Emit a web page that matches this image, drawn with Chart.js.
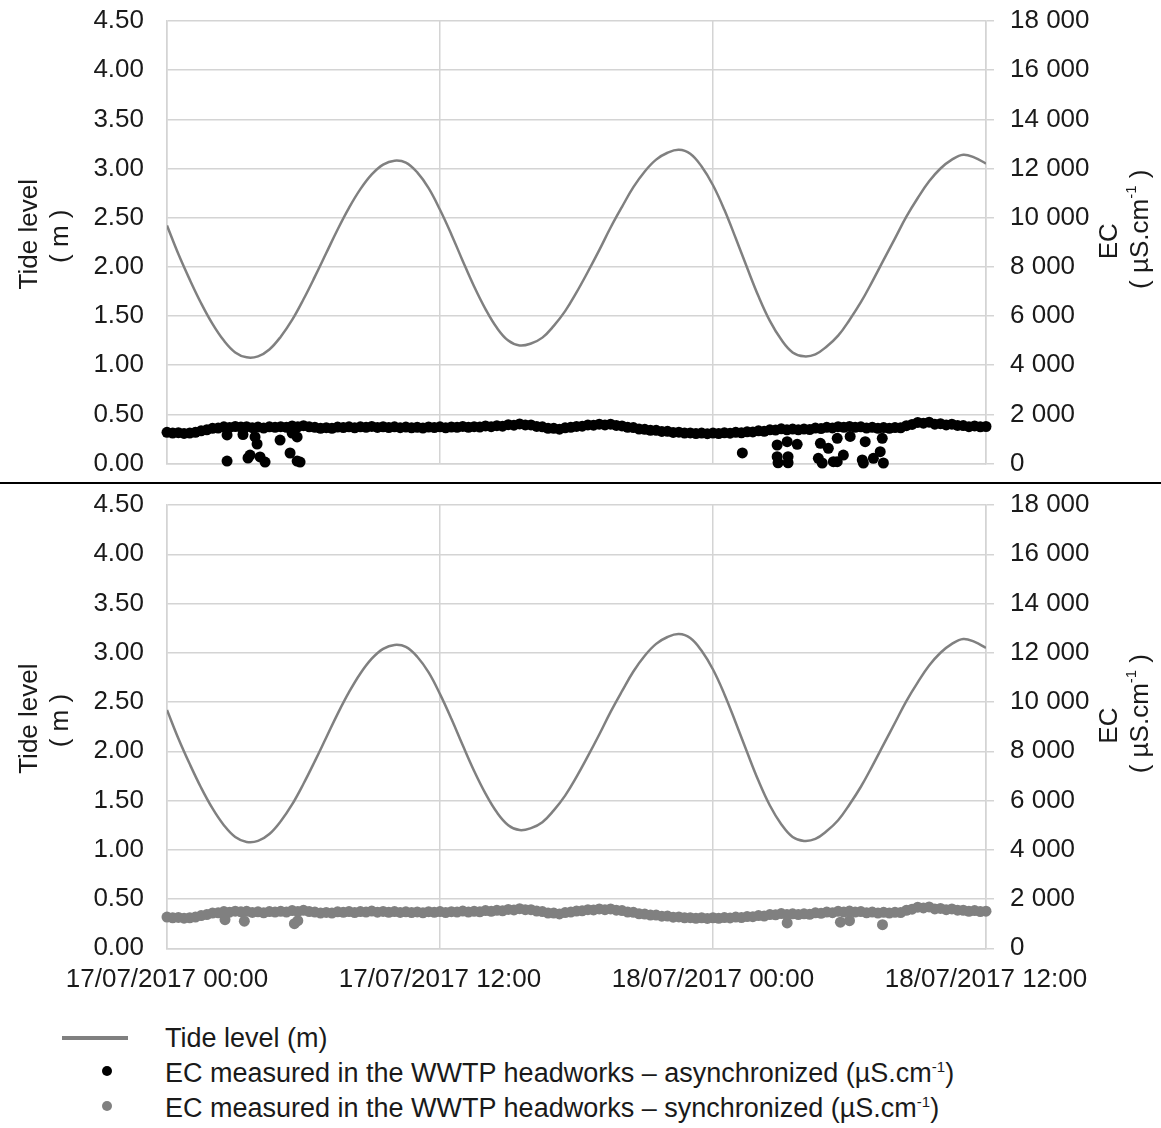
<!DOCTYPE html>
<html>
<head>
<meta charset="utf-8">
<script src="https://cdn.jsdelivr.net/npm/chart.js@4.4.0/dist/chart.umd.min.js"></script>
<style>
  html, body { margin: 0; padding: 0; background: #fff; }
  body { width: 1161px; height: 1128px; position: relative; overflow: hidden; font-family: "Liberation Sans", Arial, sans-serif; color: #1a1a1a; }
  canvas { position: absolute; left: 0; }
  #topChart { top: 0; }
  #bottomChart { top: 484px; }
  .rule { position: absolute; left: 0; top: 482px; width: 1161px; height: 2px; background: #000; }
  .row { position: absolute; left: 165px; white-space: nowrap; font-size: 27px; line-height: 30px; }
  .row sup { font-size: 15px; vertical-align: 10px; line-height: 0; }
  .swatch-line { position: absolute; left: 62px; width: 66px; height: 4px; background: #808080; }
  .swatch-dot { position: absolute; left: 102px; width: 10px; height: 10px; border-radius: 50%; }
</style>
</head>
<body>
<canvas id="topChart" width="1161" height="482"></canvas>
<div class="rule"></div>
<canvas id="bottomChart" width="1161" height="520"></canvas>

<div class="swatch-line" style="top:1036px"></div>
<div class="row" style="top:1023px">Tide level (m)</div>
<div class="swatch-dot" style="top:1066px;background:#000"></div>
<div class="row" style="top:1058px">EC measured in the WWTP headworks – asynchronized (µS.cm<sup>-1</sup>)</div>
<div class="swatch-dot" style="top:1101px;background:#808080"></div>
<div class="row" style="top:1093px">EC measured in the WWTP headworks – synchronized (µS.cm<sup>-1</sup>)</div>

<script>
// x axis: hours since 17/07/2017 00:00
const tickLabels = ["17/07/2017 00:00", "17/07/2017 12:00", "18/07/2017 00:00", "18/07/2017 12:00"]

// tide level (m), one reading every 30 min
const tideStepHours = 0.5
const tideLevel = [
  2.42, 2.13, 1.87, 1.63, 1.42, 1.25, 1.13, 1.08,
  1.09, 1.16, 1.29, 1.46, 1.67, 1.90, 2.14, 2.38, 2.60, 2.79, 2.94, 3.04, 3.08,
  3.06, 2.96, 2.80, 2.58, 2.33, 2.06, 1.80, 1.57, 1.38, 1.25, 1.20,
  1.22, 1.28, 1.40, 1.55, 1.74, 1.95, 2.17, 2.40, 2.61, 2.81, 2.97, 3.09, 3.16, 3.19,
  3.15, 3.02, 2.83, 2.58, 2.29, 1.99, 1.70, 1.45, 1.26, 1.13, 1.09,
  1.11, 1.19, 1.30, 1.46, 1.64, 1.85, 2.07, 2.29, 2.51, 2.70, 2.87, 3.00, 3.09, 3.14, 3.11, 3.05
]

// EC in the headworks (µS/cm), one reading every 15 min
const ecStepHours = 0.25
const ecValues = [
  1270, 1240, 1255, 1225, 1240, 1270, 1330, 1370, 1430, 1440, 1490, 1465,
  1505, 1480, 1500, 1455, 1480, 1440, 1490, 1470, 1500, 1470, 1530, 1495,
  1540, 1490, 1470, 1430, 1455, 1430, 1480, 1460, 1490, 1450, 1490, 1470,
  1510, 1465, 1495, 1460, 1490, 1455, 1480, 1450, 1475, 1440, 1485, 1460,
  1490, 1450, 1485, 1470, 1510, 1470, 1500, 1480, 1530, 1500, 1540, 1520,
  1580, 1560, 1610, 1570, 1570, 1510, 1490, 1430, 1430, 1395, 1450, 1470,
  1510, 1520, 1570, 1560, 1600, 1570, 1600, 1550, 1530, 1470, 1460, 1400,
  1390, 1350, 1350, 1305, 1310, 1265, 1275, 1240, 1245, 1220, 1240, 1215,
  1240, 1220, 1250, 1235, 1270, 1250, 1290, 1285, 1330, 1310, 1370, 1360,
  1410, 1370, 1400, 1370, 1400, 1380, 1440, 1420, 1470, 1445, 1500, 1470,
  1510, 1470, 1490, 1440, 1470, 1430, 1460, 1430, 1460, 1450, 1540, 1590,
  1670, 1640, 1680, 1600, 1620, 1570, 1600, 1550, 1545, 1500, 1530, 1490,
  1505
]

// low readings of the asynchronized series
const asyncLowHours = [
  2.64, 2.64, 3.34, 3.56, 3.65, 3.87, 3.96, 4.09, 4.31, 4.97, 5.41, 5.5, 5.72, 5.72, 5.85,
  25.29, 26.82, 26.82, 26.86, 27.26, 27.3, 27.3, 27.7, 28.63, 28.72, 28.8, 29.07, 29.29,
  29.46, 29.46, 29.73, 30.03, 30.56, 30.61, 30.69, 31.05, 31.35, 31.44, 31.49
]
const asyncLowValues = [
  100, 1160, 1180, 224, 345, 1080, 793, 265, 60, 955, 427, 1240, 100, 1080, 60,
  430, 752, 277, 30, 886, 277, 30, 780, 211, 820, 20, 617, 73,
  73, 1024, 345, 1100, 142, 20, 886, 211, 480, 1024, 20
]

// dips of the synchronized series
const syncLowHours = [2.55, 3.4, 5.6, 5.75, 27.26, 29.6, 30.0, 31.45]
const syncLowValues = [1160, 1100, 1000, 1120, 1030, 1060, 1120, 960]

const fontFamily = '"Liberation Sans", Arial, sans-serif'
const textColor = "#1a1a1a"
const gridColor = "#d4d4d4"

const tidePoints = tideLevel.map((v, i) => ({ x: i * tideStepHours, y: v }))
const ecPoints = ecValues.map((v, i) => ({ x: i * ecStepHours, y: v }))
const asyncPoints = ecPoints.concat(asyncLowHours.map((h, i) => ({ x: h, y: asyncLowValues[i] })))
const syncPoints = ecPoints.concat(syncLowHours.map((h, i) => ({ x: h, y: syncLowValues[i] })))

function drawVertical(ctx, parts, x, y) {
  // parts: [text, size, raise]
  let total = 0
  parts.forEach((p) => {
    ctx.font = `${p[1]}px ${fontFamily}`
    total += ctx.measureText(p[0]).width
  })
  ctx.save()
  ctx.translate(x, y)
  ctx.rotate(-Math.PI / 2)
  let pos = -total / 2
  parts.forEach((p) => {
    ctx.font = `${p[1]}px ${fontFamily}`
    ctx.fillText(p[0], pos, -p[2])
    pos += ctx.measureText(p[0]).width
  })
  ctx.restore()
}

const axisTitles = {
  id: "axisTitles",
  afterDraw(chart) {
    const { ctx, chartArea } = chart
    const mid = (chartArea.top + chartArea.bottom) / 2
    ctx.save()
    ctx.fillStyle = textColor
    ctx.textAlign = "left"
    ctx.textBaseline = "middle"
    drawVertical(ctx, [["Tide level", 26, 0]], 30, mid - 8)
    drawVertical(ctx, [["( m )", 26, 0]], 61, mid - 6)
    drawVertical(ctx, [["EC", 26, 0]], 1110, mid - 1)
    drawVertical(ctx, [["( µS.cm", 26, 0], ["-1", 15, 9], [" )", 26, 0]], 1141, mid - 13)
    ctx.restore()
  },
}

// fixed axis widths; drop the label overhang so the plot keeps its place
function fixWidth(w) {
  return (scale) => {
    scale.width = w
    scale.paddingTop = 0
    scale.paddingBottom = 0
  }
}

function makeChart(id, ecData, ecColor, showDates, xHeight) {
  const ctx = document.getElementById(id).getContext("2d")
  return new Chart(ctx, {
    type: "scatter",
    data: {
      datasets: [
        {
          label: "Tide level (m)",
          data: tidePoints,
          showLine: true,
          borderColor: "#808080",
          borderWidth: 2.5,
          pointRadius: 0,
          tension: 0.4,
          yAxisID: "y",
        },
        {
          label: "EC",
          data: ecData,
          backgroundColor: ecColor,
          borderWidth: 0,
          pointRadius: 5.5,
          clip: false,
          yAxisID: "y2",
        },
      ],
    },
    options: {
      responsive: false,
      animation: false,
      layout: { padding: { top: 21, left: 0, right: 0, bottom: 0 } },
      plugins: { legend: { display: false }, tooltip: { enabled: false } },
      scales: {
        x: {
          type: "linear",
          min: 0,
          max: 36,
          afterFit: (scale) => { scale.height = xHeight },
          grid: { color: gridColor, lineWidth: 1.5, drawTicks: false },
          border: { color: gridColor, width: 1.5 },
          ticks: {
            display: showDates,
            stepSize: 12,
            autoSkip: false,
            maxRotation: 0,
            padding: 16,
            color: textColor,
            font: { family: fontFamily, size: 26 },
            callback: (v) => tickLabels[Math.round(v / 12)],
          },
        },
        y: {
          position: "left",
          min: 0,
          max: 4.5,
          afterFit: fixWidth(167),
          grid: { color: gridColor, lineWidth: 1.5, drawTicks: false },
          border: { color: gridColor, width: 1.5 },
          ticks: {
            stepSize: 0.5,
            padding: 23,
            color: textColor,
            font: { family: fontFamily, size: 26 },
            callback: (v) => v.toFixed(2),
          },
        },
        y2: {
          position: "right",
          min: 0,
          max: 18000,
          afterFit: fixWidth(175),
          grid: { color: gridColor, lineWidth: 1.5, drawOnChartArea: false, drawTicks: true, tickLength: 8 },
          border: { color: gridColor, width: 1.5 },
          ticks: {
            stepSize: 2000,
            padding: 16,
            color: textColor,
            font: { family: fontFamily, size: 26 },
            callback: (v) => v === 0 ? "0" : `${Math.floor(v / 1000)} ${String(v % 1000).padStart(3, "0")}`,
          },
        },
      },
    },
    plugins: [axisTitles],
  })
}

makeChart("topChart", asyncPoints, "#000000", false, 18.5)
makeChart("bottomChart", syncPoints, "#808080", true, 55.7)
</script>
</body>
</html>
